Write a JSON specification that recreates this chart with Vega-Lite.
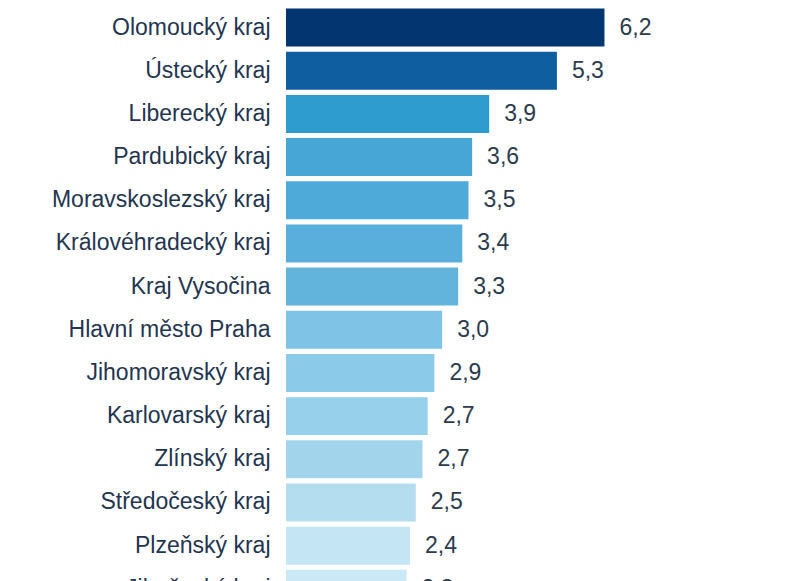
{
  "$schema": "https://vega.github.io/schema/vega-lite/v6.json",
  "width": 517,
  "height": 575,
  "autosize": {"type": "none"},
  "padding": {"left": 286, "top": 6, "right": 3, "bottom": 0},
  "background": "white",
  "config": {"view": {"stroke": null}, "font": "Liberation Sans"},
  "data": {
    "values": [
      {"region": "Olomoucký kraj", "value": 6.16, "label": "6,2"},
      {"region": "Ústecký kraj", "value": 5.24, "label": "5,3"},
      {"region": "Liberecký kraj", "value": 3.93, "label": "3,9"},
      {"region": "Pardubický kraj", "value": 3.6, "label": "3,6"},
      {"region": "Moravskoslezský kraj", "value": 3.53, "label": "3,5"},
      {"region": "Královéhradecký kraj", "value": 3.41, "label": "3,4"},
      {"region": "Kraj Vysočina", "value": 3.33, "label": "3,3"},
      {"region": "Hlavní město Praha", "value": 3.02, "label": "3,0"},
      {"region": "Jihomoravský kraj", "value": 2.87, "label": "2,9"},
      {"region": "Karlovarský kraj", "value": 2.74, "label": "2,7"},
      {"region": "Zlínský kraj", "value": 2.64, "label": "2,7"},
      {"region": "Středočeský kraj", "value": 2.51, "label": "2,5"},
      {"region": "Plzeňský kraj", "value": 2.4, "label": "2,4"},
      {"region": "Jihočeský kraj", "value": 2.33, "label": "2,3"}
    ]
  },
  "encoding": {
    "y": {
      "field": "region",
      "type": "nominal",
      "sort": null,
      "scale": {"range": [0, 604.4], "paddingInner": 0.12, "paddingOuter": 0.06},
      "axis": {
        "title": null,
        "domain": false,
        "ticks": false,
        "labelPadding": 16,
        "labelFontSize": 23,
        "labelLimit": 400,
        "labelColor": "#1f3550",
        "labelFont": "Liberation Sans"
      }
    },
    "x": {
      "field": "value",
      "type": "quantitative",
      "scale": {"domain": [0, 10], "nice": false},
      "axis": null
    }
  },
  "layer": [
    {
      "mark": {"type": "bar"},
      "encoding": {
        "color": {
          "field": "region",
          "type": "nominal",
          "sort": null,
          "legend": null,
          "scale": {
            "domain": ["Olomoucký kraj", "Ústecký kraj", "Liberecký kraj", "Pardubický kraj", "Moravskoslezský kraj", "Královéhradecký kraj", "Kraj Vysočina", "Hlavní město Praha", "Jihomoravský kraj", "Karlovarský kraj", "Zlínský kraj", "Středočeský kraj", "Plzeňský kraj", "Jihočeský kraj"],
            "range": ["#033570", "#0f5e9f", "#2f9ccf", "#48a6d6", "#4eaad9", "#58afdb", "#63b4dd", "#7fc4e6", "#8bcae8", "#97d0ea", "#a2d5ec", "#b4ddf0", "#c4e5f4", "#cae8f5"]
          }
        }
      }
    },
    {
      "mark": {"type": "text", "align": "left", "baseline": "middle", "dx": 15, "fontSize": 23, "color": "#2b3b4d", "font": "Liberation Sans"},
      "encoding": {"text": {"field": "label"}}
    }
  ]
}
